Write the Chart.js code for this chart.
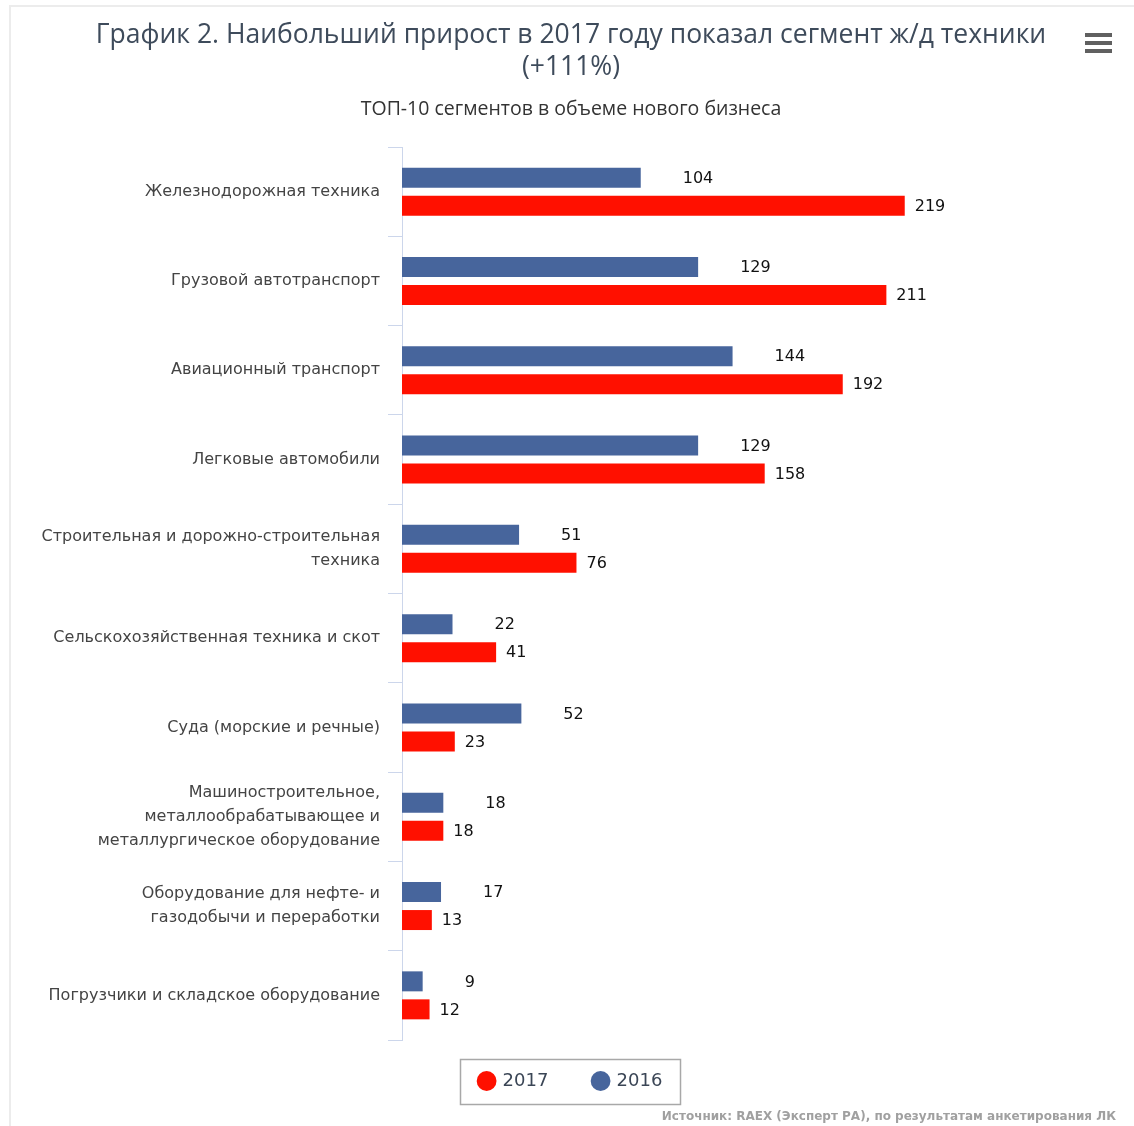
<!DOCTYPE html>
<html lang="ru">
<head>
<meta charset="utf-8">
<title>График 2</title>
<script src="https://cdn.jsdelivr.net/npm/chart.js@4.4.1/dist/chart.umd.min.js"></script>
<style>
  html, body { margin: 0; padding: 0; background: #fff; }
  #wrap { width: 1134px; height: 1126px; position: relative; }
</style>
</head>
<body>
<div id="wrap"><canvas id="myChart" width="1134" height="1126"></canvas></div>
<script>
"use strict";

// категории (сверху вниз)
const categories = [
    "Железнодорожная техника",
    "Грузовой автотранспорт",
    "Авиационный транспорт",
    "Легковые автомобили",
    ["Строительная и дорожно-строительная", "техника"],
    "Сельскохозяйственная техника и скот",
    "Суда (морские и речные)",
    ["Машиностроительное,", "металлообрабатывающее и", "металлургическое оборудование"],
    ["Оборудование для нефте- и", "газодобычи и переработки"],
    "Погрузчики и складское оборудование"
];

const values2016 = [104, 129, 144, 129, 51, 22, 52, 18, 17, 9];
const values2017 = [219, 211, 192, 158, 76, 41, 23, 18, 13, 12];

const titleLines = ["График 2. Наибольший прирост в 2017 году показал сегмент ж/д техники", "(+111%)"];
const subtitleText = "ТОП-10 сегментов в объеме нового бизнеса";
const sourceText = "Источник: RAEX (Эксперт РА), по результатам анкетирования ЛК";

const blue = "#47659c";
const red = "#ff1000";

// подписи значений у концов столбцов
const valueLabels = {
    id: "valueLabels",
    afterDatasetsDraw(chart) {
        const ctx = chart.ctx;
        ctx.save();
        ctx.font = "16px 'DejaVu Sans'";
        ctx.fillStyle = "#111";
        ctx.textAlign = "left";
        ctx.textBaseline = "middle";
        chart.data.datasets.forEach((ds, i) => {
            const meta = chart.getDatasetMeta(i);
            const off = i === 0 ? 42 : 10;
            meta.data.forEach((bar, j) => {
                ctx.fillText(ds.data[j], bar.x + off, bar.y + 1);
            });
        });
        ctx.restore();
    }
};

// рамка, меню, источник, рамка легенды
const extras = {
    id: "extras",
    beforeDraw(chart) {
        const ctx = chart.ctx;
        ctx.save();
        ctx.strokeStyle = "#ececec";
        ctx.lineWidth = 2;
        ctx.strokeRect(10, 6, 1140, 1140);
        ctx.restore();
    },
    afterDraw(chart) {
        const ctx = chart.ctx;
        ctx.save();
        // меню
        ctx.fillStyle = "#606060";
        [35, 43, 51].forEach(y => ctx.fillRect(1085, y - 2, 27, 4));
        // источник
        ctx.font = "bold 12px 'DejaVu Sans'";
        ctx.fillStyle = "#a0a0a0";
        ctx.textAlign = "right";
        ctx.textBaseline = "middle";
        ctx.fillText(sourceText, 1116, 1117);
        // рамка легенды
        const boxes = chart.legend.legendHitBoxes;
        if (boxes.length) {
            const cx = 570;
            const cy = boxes[0].top + boxes[0].height / 2;
            ctx.strokeStyle = "#a8a8a8";
            ctx.lineWidth = 1.5;
            ctx.strokeRect(Math.round(cx - 110) + 0.5, Math.round(cy - 22) + 0.5, 220, 45);
        }
        ctx.restore();
    }
};

new Chart(document.getElementById("myChart"), {
    type: "bar",
    data: {
        labels: categories,
        datasets: [
            { label: "2016", data: values2016, backgroundColor: blue, categoryPercentage: 0.627, barPercentage: 0.714 },
            { label: "2017", data: values2017, backgroundColor: red, categoryPercentage: 0.627, barPercentage: 0.714 }
        ]
    },
    options: {
        indexAxis: "y",
        responsive: false,
        animation: false,
        layout: { padding: { left: 10, right: 2, top: 0, bottom: 26 } },
        scales: {
            x: {
                min: 0,
                max: 318,
                grid: { display: false, drawTicks: true, tickLength: 4 },
                border: { display: false },
                ticks: { display: false }
            },
            y: {
                afterFit(scale) { scale.width = 392; },
                grid: { drawOnChartArea: false, drawTicks: true, tickLength: 14, color: "#ccd6eb", offset: true },
                border: { display: true, color: "#ccd6eb", width: 1 },
                ticks: {
                    padding: 8,
                    color: "#444",
                    font: { family: "'DejaVu Sans'", size: 16, lineHeight: 1.5 }
                }
            }
        },
        plugins: {
            title: {
                display: true,
                text: titleLines,
                color: "#3e4b5b",
                font: { family: "'Open Sans'", size: 26.5, weight: "normal", lineHeight: 1.2 },
                padding: { top: 20, bottom: 14 }
            },
            subtitle: {
                display: true,
                text: subtitleText,
                color: "#333",
                font: { family: "'Open Sans'", size: 19.5, lineHeight: 1.2 },
                padding: { top: 0, bottom: 26 }
            },
            legend: {
                position: "bottom",
                reverse: true,
                labels: {
                    usePointStyle: true,
                    pointStyle: "circle",
                    boxWidth: 14,
                    boxHeight: 14,
                    padding: 28,
                    color: "#3b4656",
                    font: { family: "'DejaVu Sans'", size: 18 },
                    generateLabels(chart) {
                        const items = Chart.defaults.plugins.legend.labels.generateLabels(chart);
                        items.forEach(it => {
                            if (it.datasetIndex === 1) it.text = it.text + "   ";
                        });
                        return items;
                    }
                }
            },
            tooltip: { enabled: false }
        }
    },
    plugins: [valueLabels, extras]
});
</script>
</body>
</html>
